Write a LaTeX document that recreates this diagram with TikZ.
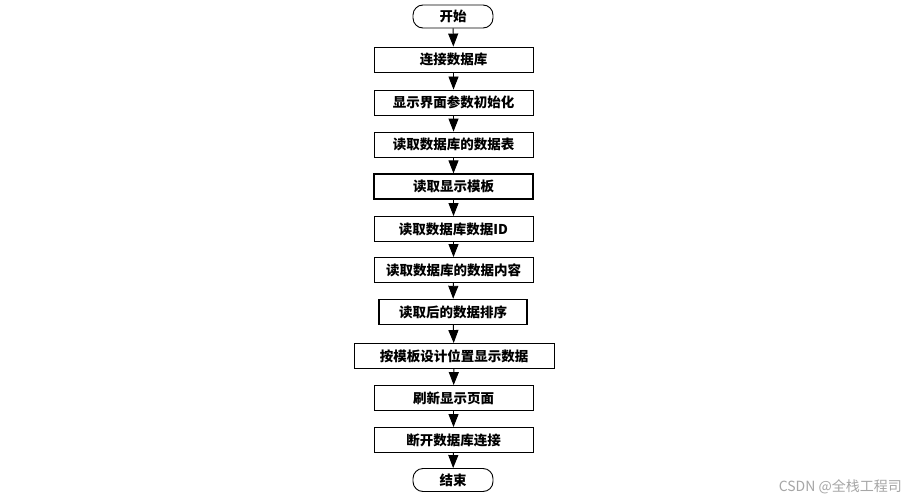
\documentclass[tikz,border=0pt]{standalone}
\usepackage{fontspec}
\setmainfont{Noto Sans CJK SC}
\usetikzlibrary{arrows.meta}
\begin{document}
\begin{tikzpicture}[x=1pt,y=-1pt,
  stepbox/.style={draw, line width=0.9pt, minimum width=159pt, minimum height=25pt, inner sep=0pt, font=\fontsize{13.5}{15}\selectfont\bfseries},
  termbox/.style={draw, line width=0.9pt, rounded corners=10pt, minimum width=80pt, minimum height=23pt, inner sep=0pt, font=\fontsize{13.5}{15}\selectfont\bfseries},
  flow/.style={draw, line width=0.9pt, -{Triangle[width=10pt,length=13pt]}}]
\useasboundingbox (0,0) rectangle (910,503);
\fill[white] (0,0) rectangle (910,503);
\node[termbox] (s) at (453,16.5) {开始};
\node[stepbox] (b1) at (453.5,59.5) {连接数据库};
\node[stepbox] (b2) at (453.5,102.5) {显示界面参数初始化};
\node[stepbox] (b3) at (453.5,144.5) {读取数据库的数据表};
\node[stepbox, line width=1.2pt] (b4) at (453.5,186.5) {读取显示模板};
\node[stepbox] (b5) at (453.5,229) {读取数据库数据ID};
\node[stepbox] (b6) at (453.5,270) {读取数据库的数据内容};
\node[stepbox, line width=1.4pt, minimum width=148pt] (b7) at (453,312) {读取后的数据排序};
\node[stepbox, minimum width=200pt] (b8) at (454,356) {按模板设计位置显示数据};
\node[stepbox] (b9) at (453.5,398) {刷新显示页面};
\node[stepbox] (b10) at (453.5,440) {断开数据库连接};
\node[termbox] (e) at (453,480) {结束};
\foreach \a/\b in {s/b1,b1/b2,b2/b3,b3/b4,b4/b5,b5/b6,b6/b7,b7/b8,b8/b9,b9/b10,b10/e}
  \draw[flow] (\a) -- (\b);
\node[text=black!35, anchor=east, font=\fontsize{14}{16}\selectfont, inner sep=0pt] (wm) at (902,487) {CSDN @全栈工程司};
\end{tikzpicture}
\end{document}
